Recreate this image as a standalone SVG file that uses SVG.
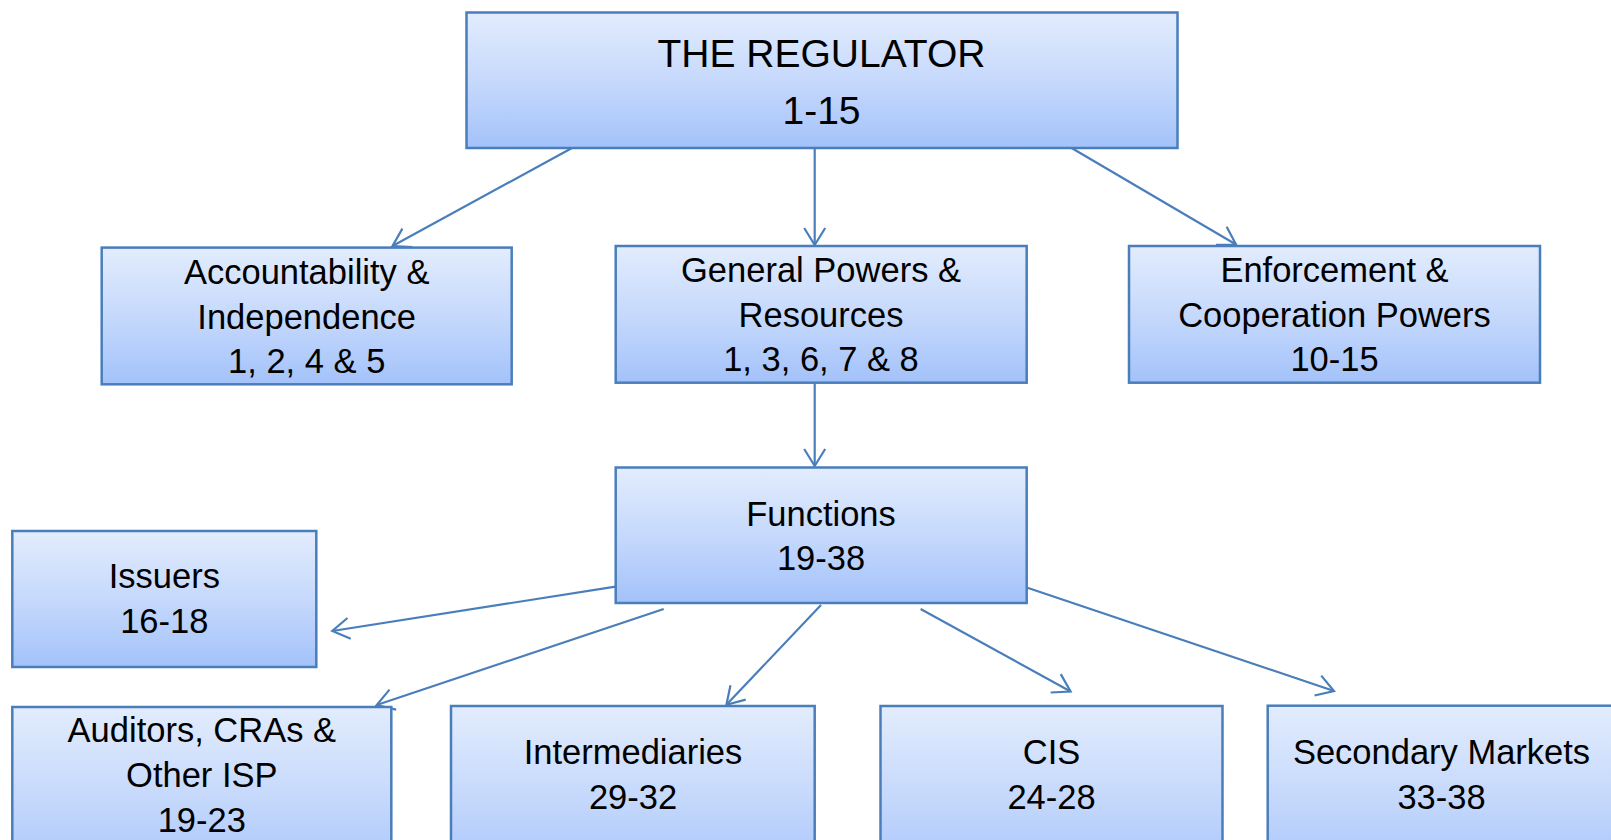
<svg xmlns="http://www.w3.org/2000/svg" width="1611" height="840" viewBox="0 0 1611 840">
<defs>
<linearGradient id="g" x1="0" y1="0" x2="0" y2="1">
<stop offset="0" stop-color="#E2ECFD"/>
<stop offset="0.5" stop-color="#C6D9FC"/>
<stop offset="1" stop-color="#A3C2FA"/>
</linearGradient>
<marker id="arr" markerUnits="userSpaceOnUse" markerWidth="24" markerHeight="26" viewBox="0 0 24 26" refX="19" refY="13" orient="auto">
<path d="M2,2.5 L19,13 L2,23.5" fill="none" stroke="#4A7EBB" stroke-width="2.2"/>
</marker>
<style>
.box{fill:url(#g);stroke:#4A7EBB;stroke-width:2.5}
.t{font-family:"Liberation Sans",Arial,sans-serif;font-size:34.5px;fill:#000;text-anchor:middle}
.big{font-size:39px}
.c{stroke:#4A7EBB;stroke-width:2.2;fill:none;marker-end:url(#arr)}
</style>
</defs>
<rect width="1611" height="840" fill="#fff"/>
<g id="connectors">
<line class="c" x1="572" y1="148" x2="392.5" y2="246"/>
<line class="c" x1="814.7" y1="148" x2="814.7" y2="245"/>
<line class="c" x1="1071.6" y1="148" x2="1236" y2="244.5"/>
<line class="c" x1="814.7" y1="383" x2="814.7" y2="466"/>
<line class="c" x1="615.4" y1="586.7" x2="332.3" y2="631"/>
<line class="c" x1="663.7" y1="609" x2="376.7" y2="705"/>
<line class="c" x1="821" y1="605" x2="726.4" y2="704.8"/>
<line class="c" x1="920.6" y1="609" x2="1070.6" y2="691.5"/>
<line class="c" x1="1027.4" y1="587.7" x2="1334" y2="691"/>
</g>
<g id="regulator">
<rect class="box" x="466.5" y="12.5" width="711" height="135.5"/>
<text class="t big" x="821.5" y="67">THE REGULATOR</text>
<text class="t big" x="821.5" y="124">1-15</text>
</g>
<g id="accountability">
<rect class="box" x="101.7" y="247.6" width="410" height="136.7"/>
<text class="t" x="306.7" y="284">Accountability &amp;</text>
<text class="t" x="306.7" y="328.5">Independence</text>
<text class="t" x="306.7" y="373.3">1, 2, 4 &amp; 5</text>
</g>
<g id="general">
<rect class="box" x="615.7" y="246" width="411" height="136.7"/>
<text class="t" x="821" y="281.7">General Powers &amp;</text>
<text class="t" x="821" y="326.7">Resources</text>
<text class="t" x="821" y="371">1, 3, 6, 7 &amp; 8</text>
</g>
<g id="enforcement">
<rect class="box" x="1129" y="246" width="411" height="136.7"/>
<text class="t" x="1334.5" y="281.7">Enforcement &amp;</text>
<text class="t" x="1334.5" y="326.7">Cooperation Powers</text>
<text class="t" x="1334.5" y="371">10-15</text>
</g>
<g id="functions">
<rect class="box" x="615.7" y="467.5" width="411" height="135.5"/>
<text class="t" x="821" y="526">Functions</text>
<text class="t" x="821" y="570">19-38</text>
</g>
<g id="issuers">
<rect class="box" x="12.3" y="531" width="304" height="136"/>
<text class="t" x="164.3" y="588.3">Issuers</text>
<text class="t" x="164.3" y="633.3">16-18</text>
</g>
<g id="auditors">
<rect class="box" x="12.3" y="707" width="379" height="180"/>
<text class="t" x="201.8" y="741.7">Auditors, CRAs &amp;</text>
<text class="t" x="201.8" y="786.7">Other ISP</text>
<text class="t" x="201.8" y="831.7">19-23</text>
</g>
<g id="intermediaries">
<rect class="box" x="451" y="706" width="363.7" height="180"/>
<text class="t" x="633" y="764.4">Intermediaries</text>
<text class="t" x="633" y="808.6">29-32</text>
</g>
<g id="cis">
<rect class="box" x="880.5" y="706" width="342" height="180"/>
<text class="t" x="1051.5" y="764.4">CIS</text>
<text class="t" x="1051.5" y="808.6">24-28</text>
</g>
<g id="secondary">
<rect class="box" x="1267.7" y="705.7" width="348" height="180"/>
<text class="t" x="1441.5" y="763.5">Secondary Markets</text>
<text class="t" x="1441.5" y="809">33-38</text>
</g>
</svg>
